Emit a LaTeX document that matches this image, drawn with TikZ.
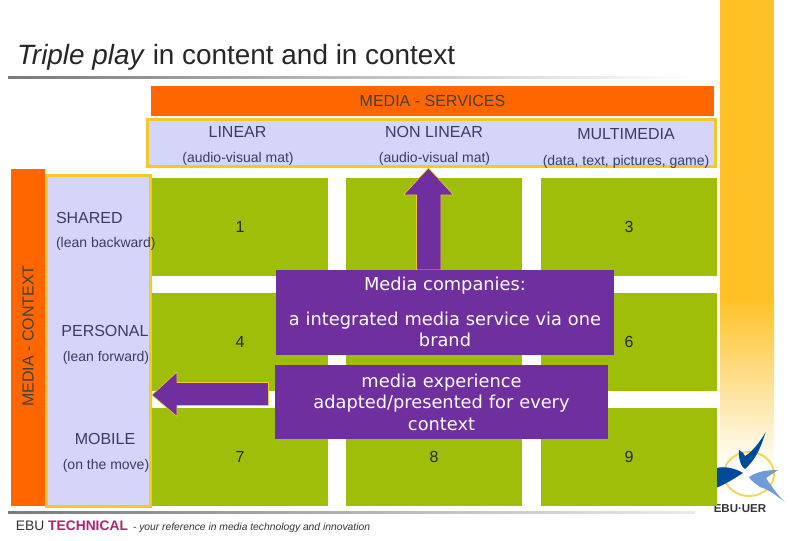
\documentclass[tikz,border=0pt]{standalone}
\usepackage{fontspec}
\setmainfont{Liberation Sans}
\newfontfamily\boxfont{DejaVu Sans}
\definecolor{orng}{HTML}{FF6600}
\definecolor{lav}{HTML}{D5D5FA}
\definecolor{ybord}{HTML}{F2C82E}
\definecolor{grn}{HTML}{9FBE0A}
\definecolor{purp}{HTML}{6F2F9F}
\definecolor{bar}{HTML}{FFC125}
\definecolor{ink}{HTML}{3B3B68}
\definecolor{bar2}{HTML}{7A7A7A}
\definecolor{dkblue}{HTML}{004A9C}
\definecolor{ltblue}{HTML}{6F9BD8}
\definecolor{ringc}{HTML}{F0D860}
\newcommand{\cellnum}[1]{\raisebox{-0.7pt}{#1}}
\tikzset{
  block/.style={inner sep=0pt,outer sep=0pt,anchor=center},
  cell/.style={block,fill=grn,minimum width=176pt,minimum height=98pt,font=\fontsize{16}{18}\selectfont,text=black!85},
  band/.style={block,fill=orng,font=\fontsize{16}{19}\selectfont,text=black!75},
  panel/.style={block,fill=lav,draw=ybord,line width=3pt},
  lab/.style={block,text=ink,font=\fontsize{16}{19}\selectfont},
  sublab/.style={block,text=ink,font=\fontsize{14}{17}\selectfont},
  pbox/.style={block,fill=purp,text=white,align=center,font=\boxfont\fontsize{17.8}{21.5}\selectfont},
  parrow/.style={fill=purp,draw=ybord,line width=0.6pt},
}
\begin{document}
\begin{tikzpicture}[x=1pt,y=-1pt]
\useasboundingbox (0,0) rectangle (810,540);
\fill[white] (0,0) rectangle (810,540);
% yellow bar
\fill[bar] (720,0) rectangle (774,298);
\shade[top color=bar,bottom color=white] (720,298) rectangle (774,468);
% title + rules
\node[block,anchor=west,font=\fontsize{27.9}{32}\selectfont,text=black!85] (title) at (17,57) {\textit{Triple play} in content and in context};
\shade[left color=bar2,right color=white] (8,76.5) rectangle (696,78.5);
\shade[left color=bar2,right color=black!8] (8,511) rectangle (695,513.5);
% logo
\draw[ringc,line width=2pt] (749,474) ellipse (25pt and 22pt);
\fill[dkblue] (765.7,432) .. controls (760,450) and (755,460) .. (745,469) .. controls (741,467) and (738,458) .. (739,450) .. controls (742,451) and (744,454) .. (745,456) .. controls (752,452) and (760,442) .. cycle;
\fill[dkblue] (716,468) .. controls (725,466) and (735,468) .. (743,473) .. controls (735,478) and (726,484) .. (716,488) -- cycle;
\fill[ltblue] (778,470) .. controls (768,470) and (758,471) .. (749,477) .. controls (752,482) and (756,484) .. (760,487) .. controls (770,490) and (778,497) .. (785,502) .. controls (778,496) and (770,484) .. (766,478) -- cycle;
\node[block,font=\bfseries\fontsize{11.5}{13}\selectfont,text=black!80] (logo) at (740,509) {EBU·UER};
% bands
\node[band,minimum width=563pt,minimum height=30pt] (services) at (432.5,101) {MEDIA - SERVICES};
\node[block,fill=orng,minimum width=34pt,minimum height=337pt] (context) at (28,337.5) {};
\node[block,rotate=90,font=\fontsize{16}{19}\selectfont,text=black!75] (contextlab) at (28,336) {MEDIA - CONTEXT};
% green cells
\node[cell] (c1) at (240,227) {\cellnum{1}};
\node[cell] (c2) at (434,227) {};
\node[cell] (c3) at (629,227) {\cellnum{3}};
\node[cell] (c4) at (240,342) {\cellnum{4}};
\node[cell] (c5) at (434,342) {};
\node[cell] (c6) at (629,342) {\cellnum{6}};
\node[cell] (c7) at (240,457) {\cellnum{7}};
\node[cell] (c8) at (434,457) {\cellnum{8}};
\node[cell] (c9) at (629,457) {\cellnum{9}};
% panels
\node[panel,minimum width=568pt,minimum height=47pt] (head) at (431,143) {};
\node[panel,minimum width=104pt,minimum height=331pt] (side) at (98.5,341) {};
\node[lab] (linear) at (237.5,131.5) {LINEAR};
\node[sublab] (av1) at (238,158.5) {(audio-visual mat)};
\node[lab] (nonlinear) at (434,131.5) {NON LINEAR};
\node[sublab] (av2) at (434.5,158.5) {(audio-visual mat)};
\node[lab] (multi) at (626,134.5) {MULTIMEDIA};
\node[sublab] (data) at (626,161.5) {(data, text, pictures, game)};
\node[lab,anchor=west] (shared) at (56,217.5) {SHARED};
\node[sublab,anchor=west] (lean1) at (56,243.5) {(lean backward)};
\node[lab] (personal) at (105,330.5) {PERSONAL};
\node[sublab] (lean2) at (106,357.5) {(lean forward)};
\node[lab] (mobile) at (105,438.5) {MOBILE};
\node[sublab] (move) at (106,465.5) {(on the move)};
% arrows
\draw[parrow] (428.5,168) -- (453.5,195) -- (441,195) -- (441,270) -- (416.5,270) -- (416.5,195) -- (403.5,195) -- cycle;
\draw[parrow] (152,395) -- (177,372) -- (177,382.5) -- (268.5,382.5) -- (268.5,405.5) -- (177,405.5) -- (177,416.5) -- cycle;
% purple boxes
\node[pbox,minimum width=338pt,minimum height=85pt] (b1) at (445,312.5) {};
\node[pbox] (b1a) at (445,286) {Media companies:};
\node[pbox,text width=330pt] (b1b) at (445,329.5) {a integrated media service via one\\brand};
\node[pbox,minimum width=333pt,minimum height=74pt,text width=325pt] (b2) at (441.5,402) {media experience\\adapted/presented for every\\context};
% footer
\node[block,anchor=west,font=\fontsize{13.8}{16}\selectfont,text=black!80] (ebu) at (16,526) {EBU \textcolor[HTML]{B0246E}{\textbf{TECHNICAL}}};
\node[block,anchor=west,font=\itshape\fontsize{10.3}{12}\selectfont,text=black!80] (tag) at (133,527.5) {- your reference in media technology and innovation};
\end{tikzpicture}
\end{document}
